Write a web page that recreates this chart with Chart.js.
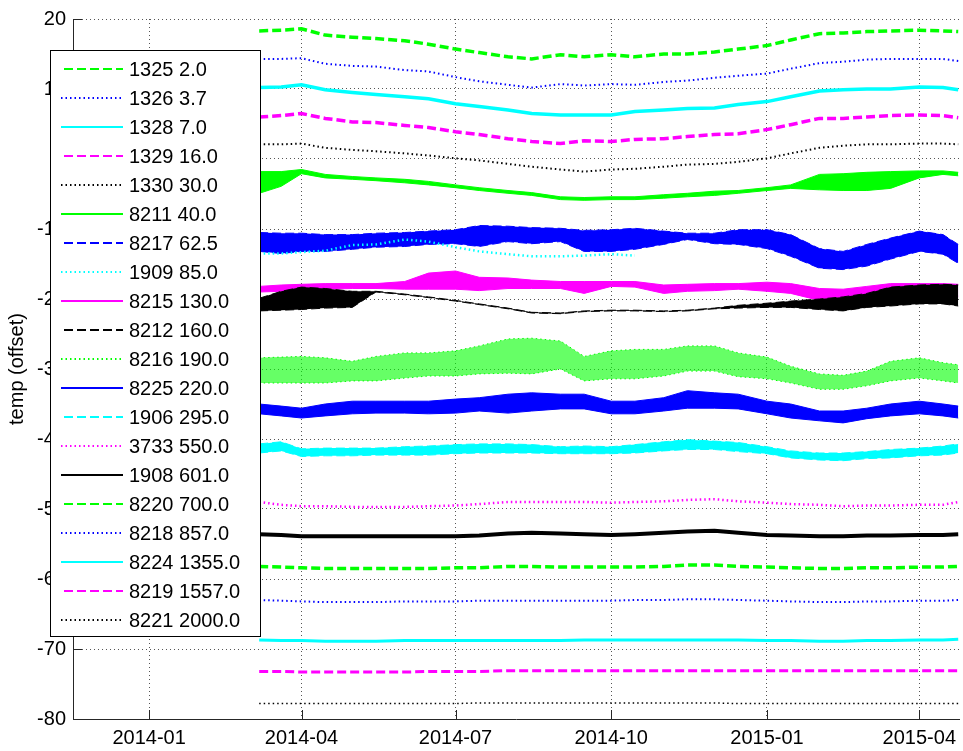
<!DOCTYPE html>
<html>
<head>
<meta charset="utf-8">
<title>temp (offset)</title>
<script src="https://cdn.jsdelivr.net/npm/chart.js@4.4.1/dist/chart.umd.min.js"></script>
<style>
  html, body { margin: 0; padding: 0; background: #fff; overflow: hidden; }
  canvas { display: block; }
</style>
</head>
<body>
<canvas id="tempChart" width="963" height="751"></canvas>
<script>
// sample dates shared by every sensor
const dates = ['2014-03-07', '2014-03-20', '2014-04-01', '2014-04-15', '2014-05-01', '2014-05-15',
    '2014-06-01', '2014-06-15', '2014-07-01', '2014-07-15', '2014-08-01', '2014-08-15',
    '2014-09-01', '2014-09-15', '2014-10-01', '2014-10-15', '2014-11-01', '2014-11-15',
    '2014-12-01', '2014-12-15', '2015-01-01', '2015-01-15', '2015-02-01', '2015-02-15',
    '2015-03-01', '2015-03-15', '2015-04-01', '2015-04-15', '2015-04-24'];

const tickLabels = ['2014-01', '2014-04', '2014-07', '2014-10', '2015-01', '2015-04'];
const xRange = ['2013-11-17', '2015-04-25'];
const yRange = [-80, 20];

const serials = ['1325', '1326', '1328', '1329', '1330', '8211', '8217', '1909', '8215', '8212',
    '8216', '8225', '1906', '3733', '1908', '8220', '8218', '8224', '8219', '8221'];
const depths = [2.0, 3.7, 7.0, 16.0, 30.0, 40.0, 62.5, 85.0, 130.0, 160.0,
    190.0, 220.0, 295.0, 550.0, 601.0, 700.0, 857.0, 1355.0, 1557.0, 2000.0];

// quiet sensors: one trace
const t1325 = [18.3, 18.4, 18.6, 17.7, 17.4, 17.2, 16.9, 16.4, 15.7, 15.2, 14.6, 14.3, 14.9, 14.6, 14.9, 14.6, 15.0, 15.0, 15.3, 15.7, 16.2, 17.0, 17.9, 18.0, 18.2, 18.3, 18.4, 18.3, 18.2];
const t1326 = [14.3, 14.3, 14.4, 13.6, 13.3, 13.2, 12.7, 12.5, 11.7, 11.1, 10.6, 10.2, 10.7, 10.5, 10.7, 10.6, 11.0, 11.2, 11.6, 11.9, 12.2, 12.9, 13.7, 13.9, 14.2, 14.3, 14.3, 14.3, 14.0];
const t1328 = [10.2, 10.3, 10.6, 9.9, 9.5, 9.2, 8.9, 8.6, 7.9, 7.5, 7.0, 6.5, 6.3, 6.3, 6.3, 6.8, 7.0, 7.2, 7.3, 7.8, 8.2, 8.9, 9.7, 9.9, 10.0, 10.0, 10.3, 10.2, 9.9];
const t1329 = [6.0, 6.2, 6.5, 5.8, 5.3, 5.2, 4.8, 4.5, 3.9, 3.5, 2.9, 2.5, 2.2, 2.6, 2.5, 2.8, 2.9, 3.2, 3.5, 3.6, 4.2, 4.9, 5.8, 5.8, 6.0, 6.2, 6.3, 6.2, 5.9];
const t1330 = [2.1, 2.1, 2.2, 1.6, 1.3, 1.1, 0.8, 0.5, 0.1, -0.2, -0.7, -1.1, -1.5, -1.8, -1.5, -1.4, -1.1, -0.8, -0.7, -0.4, 0.1, 0.8, 1.6, 1.9, 2.1, 2.1, 2.2, 2.2, 2.1];
const t1909 = [-13.5, -13.5, -13.3, -13.1, -12.3, -12.2, -11.5, -11.8, -12.6, -13.2, -13.6, -13.9, -13.9, -13.8, -13.6, -13.8, null, null, null, null, null, null, null, null, null, null, null, null, null];
const t3733 = [-49.0, -49.4, -49.6, -49.6, -49.7, -49.7, -49.7, -49.6, -49.5, -49.3, -49.0, -49.0, -49.0, -49.0, -49.1, -49.0, -48.9, -48.7, -48.6, -48.9, -49.1, -49.3, -49.4, -49.6, -49.5, -49.5, -49.4, -49.4, -49.0];
const t1908 = [-53.6, -53.7, -53.9, -53.9, -53.9, -53.9, -53.9, -53.9, -53.9, -53.8, -53.5, -53.4, -53.5, -53.6, -53.7, -53.6, -53.4, -53.2, -53.1, -53.4, -53.7, -53.8, -53.9, -53.9, -53.8, -53.8, -53.7, -53.7, -53.6];
const t8220 = [-58.2, -58.3, -58.4, -58.5, -58.5, -58.5, -58.5, -58.5, -58.4, -58.4, -58.2, -58.2, -58.3, -58.3, -58.3, -58.3, -58.2, -58.0, -58.0, -58.2, -58.3, -58.4, -58.5, -58.5, -58.4, -58.4, -58.3, -58.3, -58.2];
const t8218 = [-63.0, -63.1, -63.2, -63.3, -63.3, -63.3, -63.2, -63.2, -63.2, -63.1, -63.1, -63.1, -63.1, -63.1, -63.1, -63.0, -63.0, -62.9, -62.9, -63.0, -63.1, -63.2, -63.3, -63.3, -63.2, -63.2, -63.1, -63.1, -63.0];
const t8224 = [-68.7, -68.8, -68.8, -68.9, -68.9, -68.9, -68.8, -68.8, -68.8, -68.8, -68.8, -68.8, -68.8, -68.7, -68.7, -68.7, -68.7, -68.7, -68.7, -68.7, -68.8, -68.8, -68.9, -68.9, -68.8, -68.8, -68.7, -68.7, -68.6];
const t8219 = [-73.2, -73.2, -73.3, -73.3, -73.3, -73.3, -73.3, -73.2, -73.2, -73.2, -73.1, -73.1, -73.1, -73.1, -73.1, -73.1, -73.1, -73.1, -73.1, -73.1, -73.1, -73.1, -73.1, -73.1, -73.1, -73.1, -73.1, -73.1, -73.1];
const t8221 = [-77.8, -77.8, -77.8, -77.8, -77.8, -77.8, -77.8, -77.8, -77.8, -77.7, -77.7, -77.7, -77.7, -77.7, -77.7, -77.7, -77.7, -77.7, -77.7, -77.8, -77.8, -77.8, -77.8, -77.8, -77.8, -77.8, -77.8, -77.8, -77.8];

// noisy sensors: upper and lower edge of the trace
const s8211Hi = [-1.8, -1.8, -1.5, -2.2, -2.5, -2.7, -2.9, -3.2, -3.7, -4.1, -4.5, -4.8, -5.4, -5.5, -5.4, -5.4, -5.1, -4.9, -4.6, -4.5, -4.1, -3.7, -2.2, -2.1, -1.9, -1.8, -1.7, -1.7, -1.9];
const s8211Lo = [-4.9, -3.9, -2.1, -2.7, -2.9, -3.1, -3.4, -3.7, -4.1, -4.5, -4.9, -5.2, -5.8, -5.9, -5.8, -5.8, -5.6, -5.4, -5.2, -4.9, -4.5, -4.2, -4.4, -4.5, -4.5, -4.2, -2.7, -2.2, -2.4];
const s8217Hi = [-10.5, -10.6, -10.6, -10.8, -10.8, -10.6, -10.5, -10.3, -10.1, -9.5, -9.6, -9.8, -9.9, -10.2, -10.1, -9.9, -10.3, -10.6, -10.6, -10.1, -10.1, -10.8, -12.8, -13.2, -12.2, -11.3, -10.3, -10.8, -12.2];
const s8217Lo = [-13.2, -13.5, -13.2, -13.2, -12.9, -12.6, -12.5, -12.2, -12.1, -12.5, -11.8, -12.1, -11.8, -13.2, -13.2, -12.9, -12.2, -11.5, -12.1, -12.2, -12.8, -13.9, -15.6, -15.8, -15.3, -14.3, -13.2, -13.6, -14.9];
const s8215Hi = [-18.2, -18.0, -17.9, -17.8, -17.8, -17.8, -17.5, -16.3, -16.0, -16.9, -17.0, -17.3, -17.5, -17.5, -17.5, -17.5, -18.0, -17.9, -17.8, -17.8, -17.6, -17.8, -18.5, -18.6, -18.2, -17.8, -17.8, -17.8, -17.9];
const s8215Lo = [-19.0, -18.9, -18.8, -18.6, -18.5, -18.5, -18.6, -18.6, -18.6, -18.8, -18.5, -18.5, -18.5, -19.2, -18.2, -18.3, -19.2, -18.9, -18.8, -18.6, -18.9, -19.2, -20.2, -20.3, -20.0, -19.9, -19.7, -19.6, -19.6];
const s8212Hi = [-19.9, -18.9, -18.3, -18.5, -18.9, -18.9, -19.3, -19.7, -20.2, -20.7, -21.3, -21.9, -22.0, -21.7, -21.6, -21.6, -21.7, -21.6, -21.3, -20.9, -20.6, -20.3, -20.0, -19.7, -19.2, -18.3, -18.0, -17.9, -18.0];
const s8212Lo = [-21.7, -21.6, -21.5, -21.3, -21.2, -19.0, -19.4, -19.8, -20.3, -20.8, -21.4, -22.0, -22.1, -21.8, -21.7, -21.7, -21.8, -21.7, -21.4, -21.3, -21.2, -21.2, -21.5, -21.7, -21.2, -21.0, -20.7, -20.7, -21.0];
const s8216Hi = [-28.4, -28.3, -28.2, -28.4, -28.9, -28.2, -27.7, -27.7, -27.4, -26.7, -25.7, -25.6, -26.0, -28.2, -27.4, -27.2, -27.2, -26.7, -26.7, -27.7, -28.3, -29.6, -30.7, -30.9, -30.3, -28.9, -28.4, -29.1, -29.4];
const s8216Lo = [-32.0, -32.0, -32.0, -32.0, -31.7, -31.7, -31.3, -31.0, -31.0, -30.7, -30.6, -30.7, -30.0, -31.7, -31.4, -31.4, -31.0, -30.3, -30.3, -31.1, -31.4, -32.0, -32.9, -32.9, -32.4, -31.7, -31.3, -31.7, -32.0];
const s8225Hi = [-35.0, -35.3, -35.6, -35.0, -34.6, -34.6, -34.6, -34.6, -34.3, -34.1, -33.6, -33.4, -33.6, -33.6, -34.6, -34.6, -34.1, -33.1, -33.4, -33.6, -34.6, -35.0, -36.0, -36.0, -35.6, -35.0, -34.6, -35.0, -35.3];
const s8225Lo = [-36.4, -36.7, -37.0, -36.7, -36.4, -36.3, -36.3, -36.4, -36.3, -36.0, -36.3, -36.0, -35.7, -35.7, -36.4, -36.4, -36.0, -35.6, -35.6, -35.7, -36.4, -37.0, -37.4, -37.7, -37.1, -36.7, -36.4, -36.7, -37.0];
const s1906Hi = [-40.7, -40.4, -41.4, -41.3, -41.3, -41.3, -41.1, -41.0, -40.8, -40.7, -40.7, -40.8, -41.1, -41.0, -41.1, -40.8, -40.4, -40.1, -40.3, -40.5, -41.1, -41.7, -42.0, -42.0, -41.8, -41.5, -41.3, -41.0, -40.7];
const s1906Lo = [-42.0, -41.7, -42.5, -42.4, -42.4, -42.3, -42.3, -42.3, -42.1, -42.0, -42.0, -42.0, -42.1, -42.1, -42.1, -42.0, -41.7, -41.5, -41.5, -41.8, -42.1, -42.7, -43.0, -43.1, -42.8, -42.7, -42.4, -42.3, -42.0];

const seriesData = [t1325, t1326, t1328, t1329, t1330, [s8211Hi, s8211Lo], [s8217Hi, s8217Lo], t1909,
    [s8215Hi, s8215Lo], [s8212Hi, s8212Lo], [s8216Hi, s8216Lo], [s8225Hi, s8225Lo], [s1906Hi, s1906Lo],
    t3733, t1908, t8220, t8218, t8224, t8219, t8221];

// matlab style colour / line style cycle
const GREEN = '#00ff00', BLUE = '#0000ff', CYAN = '#00ffff', MAGENTA = '#ff00ff', BLACK = '#000000';
const DASHED = [9, 4], DOTTED = [1.5, 3], SOLID = [];
const styles = [
    [GREEN, DASHED, 3.5], [BLUE, DOTTED, 2], [CYAN, SOLID, 3.5], [MAGENTA, DASHED, 3.5], [BLACK, DOTTED, 2],
    [GREEN, SOLID, 3], [BLUE, DASHED, 3], [CYAN, DOTTED, 2.5], [MAGENTA, SOLID, 3], [BLACK, DASHED, 3],
    [GREEN, DOTTED, 2], [BLUE, SOLID, 3], [CYAN, DASHED, 3], [MAGENTA, DOTTED, 2.5], [BLACK, SOLID, 4],
    [GREEN, DASHED, 3.5], [BLUE, DOTTED, 2], [CYAN, SOLID, 3], [MAGENTA, DASHED, 3], [BLACK, DOTTED, 1.5]
];
const FONT = '"Liberation Sans", Arial, Helvetica, sans-serif';
const AXIS = '#262626';

const labels = serials.map((s, k) => s + ' ' + depths[k].toFixed(1));

function points(values) {
    return values.map((v, i) => ({ x: Date.parse(dates[i]), y: v }));
}

function buildDatasets() {
    const sets = [];
    seriesData.forEach((d, k) => {
        const [color, dash, width] = styles[k];
        const base = { borderColor: color, borderDash: dash, pointRadius: 0, tension: 0, order: 100 - k, spanGaps: false };
        if (Array.isArray(d[0])) {
            // band between upper and lower edge
            const fillColor = color === GREEN && dash === DOTTED ? 'rgba(0,255,0,0.6)' : color;
            sets.push({ ...base, label: labels[k], data: points(d[0]), borderWidth: 1, fill: '+1', backgroundColor: fillColor });
            sets.push({ ...base, label: '', data: points(d[1]), borderWidth: 1, fill: false });
        } else {
            sets.push({ ...base, label: labels[k], data: points(d), borderWidth: width, fill: false });
        }
    });
    return sets;
}

// inward ticks + boxed legend drawn over the axis labels
const matlabDecor = {
    id: 'matlabDecor',
    afterDraw(chart) {
        const ctx = chart.ctx;
        const area = chart.chartArea;
        const xs = chart.scales.x, ys = chart.scales.y;
        ctx.save();
        ctx.strokeStyle = AXIS;
        ctx.lineWidth = 1;
        ctx.beginPath();
        ys.ticks.forEach(t => {
            const y = Math.round(ys.getPixelForValue(t.value)) + 0.5;
            ctx.moveTo(area.left, y);
            ctx.lineTo(area.left + 9, y);
        });
        xs.ticks.forEach(t => {
            const x = Math.round(xs.getPixelForValue(t.value)) + 0.5;
            ctx.moveTo(x, area.bottom);
            ctx.lineTo(x, area.bottom - 9);
        });
        ctx.stroke();

        // LEGEND
        ctx.fillStyle = '#fff';
        ctx.fillRect(50.5, 50.5, 210, 586);
        ctx.strokeStyle = '#000';
        ctx.strokeRect(50.5, 50.5, 210, 586);
        ctx.font = '20px ' + FONT;
        ctx.textBaseline = 'middle';
        labels.forEach((lab, k) => {
            const y = 69 + k * 29;
            const [color, dash] = styles[k];
            ctx.strokeStyle = color;
            ctx.lineWidth = 2;
            ctx.setLineDash(dash);
            ctx.beginPath();
            ctx.moveTo(dash === DASHED ? 64 : 61, y);
            ctx.lineTo(123, y);
            ctx.stroke();
            ctx.setLineDash([]);
            ctx.fillStyle = '#000';
            ctx.fillText(lab, 129, y + 1);
        });
        ctx.restore();
    }
};

function loadChart() {
    Chart.defaults.color = '#000';
    Chart.defaults.font.family = FONT;
    Chart.defaults.font.size = 20;

    const ctx = document.getElementById('tempChart').getContext('2d');

    new Chart(ctx, {
        type: 'line',
        data: { datasets: buildDatasets() },
        options: {
            responsive: false,
            animation: false,
            devicePixelRatio: 1,
            layout: { padding: { top: 17, right: 0, bottom: 0, left: 0 } },
            plugins: {
                legend: { display: false },
                tooltip: { enabled: false },
                filler: { propagate: false }
            },
            scales: {
                x: {
                    type: 'linear',
                    min: Date.parse(xRange[0]),
                    max: Date.parse(xRange[1]),
                    afterBuildTicks: (scale) => {
                        scale.ticks = tickLabels.map(l => ({ value: Date.parse(l + '-01') }));
                    },
                    afterFit: (scale) => { scale.height = 32; },
                    ticks: {
                        autoSkip: false,
                        maxRotation: 0,
                        padding: 7,
                        callback: (v, i) => tickLabels[i]
                    },
                    grid: { color: '#555', lineWidth: 1, drawTicks: false },
                    border: { display: true, color: AXIS, width: 1, dash: [1, 3] }
                },
                y: {
                    min: yRange[0],
                    max: yRange[1],
                    afterFit: (scale) => { scale.width = 73; },
                    ticks: { stepSize: 10, padding: 7 },
                    grid: { color: '#555', lineWidth: 1, drawTicks: false },
                    border: { display: true, color: AXIS, width: 1, dash: [1, 3] },
                    title: { display: true, text: 'temp (offset)', padding: { top: 5, bottom: 0 } }
                }
            }
        },
        plugins: [matlabDecor]
    });
}

loadChart();
</script>
</body>
</html>
